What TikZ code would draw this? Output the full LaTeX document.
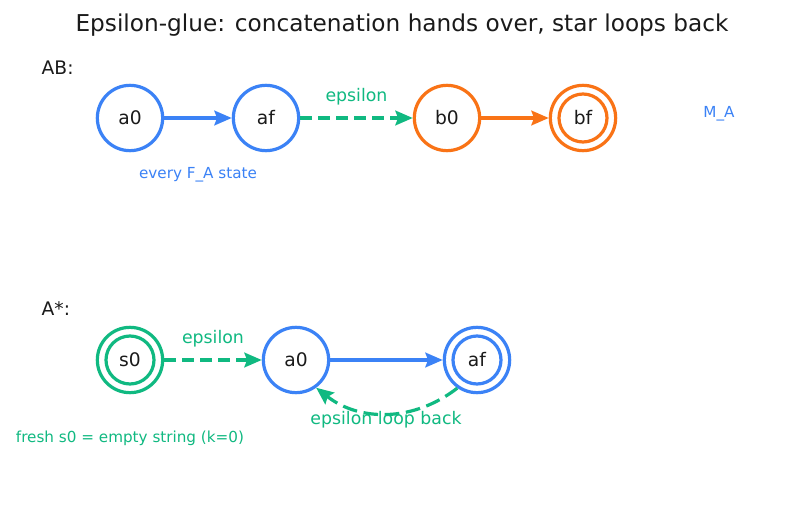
\documentclass[tikz,border=0pt]{standalone}
\usepackage{fontspec}
\setmainfont{DejaVu Sans}
\usetikzlibrary{arrows.meta}
\definecolor{cblue}{HTML}{3B82F6}
\definecolor{corange}{HTML}{F97316}
\definecolor{cgreen}{HTML}{10B981}
\definecolor{ctext}{HTML}{1A1A1A}
\newcommand{\fs}[1]{\fontsize{#1}{#1}\selectfont}
\tikzset{
  state/.style={circle, draw=#1, line width=2.4pt, minimum size=49pt, inner sep=0pt, text=ctext, font=\fs{14}},
  accstate/.style={state=#1, path picture={\draw[#1, line width=2.4pt] (path picture bounding box.center) circle[radius=18pt];}},
  edge/.style={draw=#1, line width=2.4pt, -{Stealth[length=13pt,width=11pt,inset=2pt]}},
  epsedge/.style={edge=cgreen, dash pattern=on 9pt off 4.5pt},
  lbl/.style={font=\fs{13}, text=cgreen},
  small/.style={font=\fs{11.4}},
  head/.style={font=\fs{14}, text=ctext, anchor=west}
}
\begin{document}
\begin{tikzpicture}[x=0.75pt,y=-0.75pt]
\useasboundingbox[fill=white] (0,0) rectangle (793,510);
\node[font=\fs{17.4}, text=ctext] (title) at (402,25) {Epsilon-glue: concatenation hands over, star loops back};
% AB
\node[head] (hab) at (37,68) {AB:};
\node[state=cblue] (a0) at (130,118) {a0};
\node[state=cblue] (af) at (266,118) {af};
\node[state=corange] (b0) at (447,118) {b0};
\node[accstate=corange] (bf) at (583,118) {bf};
\node[small, text=cblue] (ma) at (719,114) {M\_A};
\node[small, text=cblue] (every) at (198,175) {every F\_A state};
\draw[edge=cblue] (a0) -- (af);
\draw[epsedge] (af) -- node[lbl, above=5pt] (e1) {epsilon} (b0);
\draw[edge=corange] (b0) -- (bf);
% A*
\node[head] (hastar) at (37,309) {A*:};
\node[accstate=cgreen] (s0) at (130,360) {s0};
\node[state=cblue] (a0b) at (296,360) {a0};
\node[accstate=cblue] (afb) at (477,360) {af};
\draw[epsedge] (s0) -- node[lbl, above=5pt] (e2) {epsilon} (a0b);
\draw[edge=cblue] (a0b) -- (afb);
\draw[epsedge, dash pattern=on 11pt off 5pt] (afb.-125) to[bend left=38] (a0b.-54);
\node[lbl] (loop) at (386,420) {epsilon loop back};
\node[small, text=cgreen] (fresh) at (130,438) {fresh s0 = empty string (k=0)};
\end{tikzpicture}
\end{document}
